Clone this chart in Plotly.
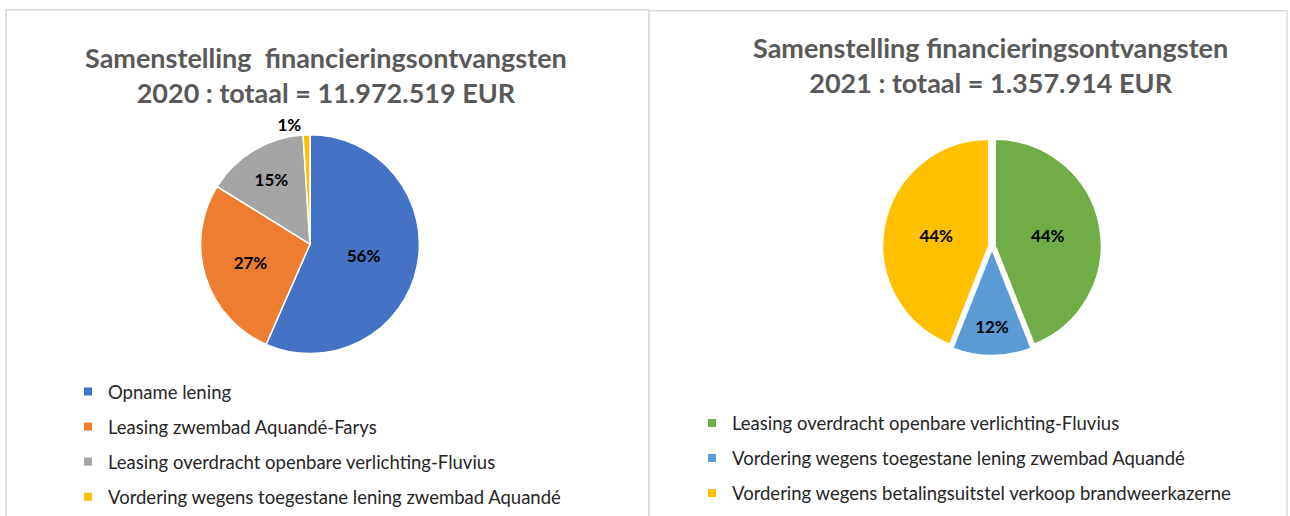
import plotly.graph_objects as go

W, H = 1290, 516

# ---- data ----
labels_2020 = ["Opname lening", "Leasing zwembad Aquandé-Farys",
               "Leasing overdracht openbare verlichting-Fluvius",
               "Vordering wegens toegestane lening zwembad Aquandé"]
values_2020 = [56, 27, 15, 1]
colors_2020 = ["#4472C4", "#ED7D31", "#A5A5A5", "#FFC000"]

labels_2021 = ["Leasing overdracht openbare verlichting-Fluvius",
               "Vordering wegens toegestane lening zwembad Aquandé",
               "Vordering wegens betalingsuitstel verkoop brandweerkazerne"]
values_2021 = [44, 12, 44]
colors_2021 = ["#70AD47", "#5B9BD5", "#FFC000"]

title_2020 = "Samenstelling  financieringsontvangsten<br>2020 : totaal = 11.972.519 EUR"
title_2021 = "Samenstelling financieringsontvangsten<br>2021 : totaal = 1.357.914 EUR"

FONT = "Lato"

def px_x(p):
    return p / W

def px_y(p):
    return 1 - p / H

fig = go.Figure()

label_font = dict(family=FONT, size=17, color="#000000", weight="bold")

# pie 2020
cx, cy, r = 310, 250, 112
fig.add_trace(go.Pie(
    labels=labels_2020, values=values_2020, sort=False, direction="clockwise",
    rotation=0, marker=dict(colors=colors_2020, line=dict(color="white", width=1.5)),
    texttemplate="%{value}%", textposition=["inside", "inside", "inside", "outside"],
    insidetextorientation="horizontal",
    textfont=label_font, outsidetextfont=label_font,
    showlegend=False, hoverinfo="label+value",
    domain=dict(x=[px_x(cx - r), px_x(cx + r)], y=[px_y(cy + r), px_y(cy - r)]),
))

# pie 2021
cx2, cy2 = 992, 252
fig.add_trace(go.Pie(
    labels=labels_2021, values=values_2021, sort=False, direction="clockwise",
    rotation=0, pull=[0.03, 0.03, 0.03],
    marker=dict(colors=colors_2021, line=dict(color="white", width=1.5)),
    texttemplate="%{value}%", textposition="inside",
    insidetextorientation="horizontal",
    textfont=label_font,
    showlegend=False, hoverinfo="label+value",
    domain=dict(x=[px_x(cx2 - r), px_x(cx2 + r)], y=[px_y(cy2 + r), px_y(cy2 - r)]),
))

# legend entries (dummy marker traces)
for lab, col in zip(labels_2020, colors_2020):
    fig.add_trace(go.Scatter(x=[None], y=[None], mode="markers", name=lab,
                             marker=dict(symbol="square", size=8, color=col),
                             legend="legend", legendgroup="a" + lab))
for lab, col in zip(labels_2021, colors_2021):
    fig.add_trace(go.Scatter(x=[None], y=[None], mode="markers", name=lab,
                             marker=dict(symbol="square", size=8, color=col),
                             legend="legend2", legendgroup="b" + lab))

legend_font = dict(family=FONT, size=18.5, color="#262626")
fig.update_layout(
    width=W, height=H,
    margin=dict(l=0, r=0, t=0, b=0),
    paper_bgcolor="white", plot_bgcolor="white",
    xaxis=dict(visible=False), yaxis=dict(visible=False),
    legend=dict(x=px_x(68), y=px_y(382), xanchor="left", yanchor="top",
                font=legend_font, tracegroupgap=8, bgcolor="rgba(0,0,0,0)",
                itemclick=False, itemdoubleclick=False),
    legend2=dict(x=px_x(692), y=px_y(414), xanchor="left", yanchor="top",
                 font=legend_font, tracegroupgap=8, bgcolor="rgba(0,0,0,0)",
                 itemclick=False, itemdoubleclick=False),
    annotations=[
        dict(text=title_2020, x=px_x(326), y=px_y(77), xref="paper", yref="paper",
             xanchor="center", yanchor="middle", showarrow=False, align="center",
             font=dict(family=FONT, size=27, color="#595959", weight="bold")),
        dict(text=title_2021, x=px_x(990), y=px_y(67), xref="paper", yref="paper",
             xanchor="center", yanchor="middle", showarrow=False, align="center",
             font=dict(family=FONT, size=27, color="#595959", weight="bold")),
    ],
    shapes=[
        dict(type="rect", xref="paper", yref="paper", x0=px_x(6), x1=px_x(649),
             y0=-0.05, y1=px_y(10), line=dict(color="#D9D9D9", width=1.5)),
        dict(type="rect", xref="paper", yref="paper", x0=px_x(649), x1=px_x(1287),
             y0=-0.05, y1=px_y(11), line=dict(color="#D9D9D9", width=1.5)),
    ],
)

fig.write_html("out.html", config={"displayModeBar": False},
               post_script="document.body.style.margin='0px';document.body.style.overflow='hidden';")
